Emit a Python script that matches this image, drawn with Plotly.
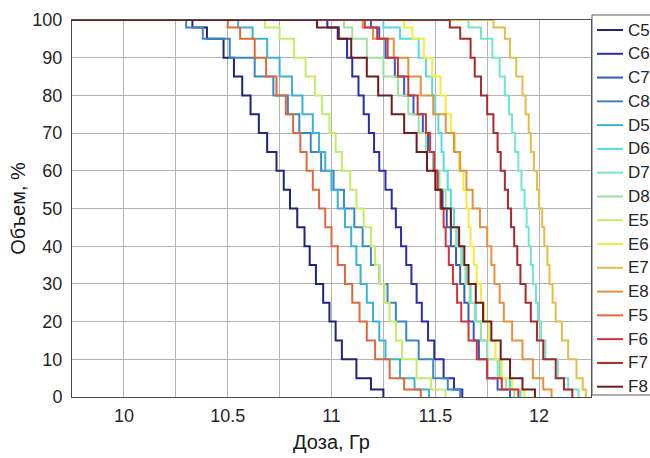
import plotly.graph_objects as go

# ---------------- data ----------------
SERIES = ["C5", "C6", "C7", "C8", "D5", "D6", "D7", "D8",
          "E5", "E6", "E7", "E8", "F5", "F6", "F7", "F8"]

COLORS = ["#23237a", "#2b2bab", "#2f5cc0", "#3b86c8", "#3cb2d8", "#4fdde8",
          "#72e6cc", "#9fe0a0", "#c6ec66", "#f4ec3c", "#e4be48", "#e4923e",
          "#dc6a3c", "#d0343a", "#a82a2c", "#6e1c1c"]

# volume levels (%) at which the dose of each curve was read
VOLUME = [100, 98, 95, 90, 85, 80, 75, 70, 65, 60, 55, 50,
          45, 40, 35, 30, 25, 20, 15, 10, 5, 2, 0]
PLATEAU_DOSE = 9.5   # curves sit at 100 % from the left edge

C5 = [10.25, 10.33, 10.40, 10.48, 10.53, 10.57, 10.61, 10.65, 10.69, 10.735, 10.77, 10.80,
      10.835, 10.87, 10.895, 10.925, 10.96, 10.99, 11.02, 11.05, 11.12, 11.19, 11.25]
C6 = [10.93, 10.98, 11.03, 11.075, 11.10, 11.13, 11.155, 11.18, 11.205, 11.23, 11.26, 11.29,
      11.31, 11.335, 11.36, 11.385, 11.41, 11.435, 11.465, 11.495, 11.54, 11.59, 11.63]
C7 = [11.12, 11.19, 11.23, 11.26, 11.305, 11.35, 11.395, 11.44, 11.465, 11.49, 11.515, 11.535,
      11.555, 11.575, 11.60, 11.62, 11.64, 11.66, 11.685, 11.71, 11.75, 11.80, 11.86]
C8 = [10.24, 10.30, 10.38, 10.51, 10.63, 10.72, 10.79, 10.845, 10.90, 10.95, 11.01, 11.06,
      11.11, 11.15, 11.19, 11.23, 11.27, 11.31, 11.36, 11.42, 11.49, 11.56, 11.62]
D5 = [10.48, 10.55, 10.62, 10.69, 10.75, 10.81, 10.86, 10.91, 10.94, 10.97, 11.00, 11.03,
      11.065, 11.095, 11.12, 11.14, 11.17, 11.20, 11.23, 11.26, 11.33, 11.40, 11.47]
D6 = [11.18, 11.25, 11.33, 11.42, 11.455, 11.485, 11.50, 11.515, 11.53, 11.54, 11.56, 11.575,
      11.59, 11.61, 11.63, 11.65, 11.67, 11.695, 11.72, 11.75, 11.81, 11.86, 11.91]
D7 = [11.60, 11.66, 11.72, 11.775, 11.81, 11.835, 11.855, 11.87, 11.885, 11.90, 11.915, 11.93,
      11.94, 11.95, 11.96, 11.97, 11.985, 11.995, 12.01, 12.03, 12.09, 12.14, 12.19]
D8 = [11.02, 11.06, 11.10, 11.17, 11.25, 11.32, 11.37, 11.42, 11.455, 11.49, 11.52, 11.55,
      11.575, 11.60, 11.625, 11.645, 11.665, 11.69, 11.72, 11.75, 11.80, 11.84, 11.88]
E5 = [10.63, 10.68, 10.75, 10.82, 10.875, 10.92, 10.955, 10.99, 11.02, 11.05, 11.09, 11.12,
      11.155, 11.19, 11.21, 11.23, 11.255, 11.28, 11.31, 11.34, 11.41, 11.48, 11.55]
E6 = [11.30, 11.35, 11.39, 11.445, 11.485, 11.525, 11.55, 11.575, 11.595, 11.615, 11.635, 11.65,
      11.66, 11.67, 11.685, 11.70, 11.72, 11.735, 11.76, 11.79, 11.82, 11.87, 11.93]
E7 = [11.72, 11.78, 11.835, 11.86, 11.89, 11.92, 11.935, 11.95, 11.96, 11.975, 11.99, 12.00,
      12.015, 12.025, 12.04, 12.05, 12.065, 12.08, 12.11, 12.14, 12.18, 12.21, 12.225]
E8 = [11.07, 11.15, 11.20, 11.30, 11.37, 11.43, 11.49, 11.55, 11.59, 11.62, 11.65, 11.68,
      11.715, 11.75, 11.77, 11.785, 11.81, 11.83, 11.87, 11.92, 11.97, 12.02, 12.06]
F5 = [10.44, 10.50, 10.56, 10.63, 10.685, 10.735, 10.78, 10.815, 10.85, 10.88, 10.91, 10.94,
      10.97, 11.00, 11.03, 11.065, 11.10, 11.135, 11.17, 11.21, 11.28, 11.35, 11.43]
F6 = [11.10, 11.16, 11.22, 11.27, 11.32, 11.37, 11.415, 11.455, 11.475, 11.495, 11.51, 11.525,
      11.54, 11.55, 11.565, 11.585, 11.605, 11.625, 11.66, 11.70, 11.75, 11.82, 11.90]
F7 = [11.48, 11.57, 11.62, 11.67, 11.69, 11.72, 11.75, 11.78, 11.80, 11.815, 11.835, 11.85,
      11.865, 11.88, 11.895, 11.91, 11.935, 11.96, 11.99, 12.02, 12.08, 12.12, 12.16]
F8 = [10.55, 10.93, 11.035, 11.095, 11.17, 11.225, 11.29, 11.35, 11.41, 11.46, 11.50, 11.53,
      11.575, 11.615, 11.64, 11.66, 11.695, 11.73, 11.77, 11.815, 11.86, 11.92, 11.98]

DOSES = [C5, C6, C7, C8, D5, D6, D7, D8, E5, E6, E7, E8, F5, F6, F7, F8]

X_TICKS = [9.75, 10, 10.25, 10.5, 10.75, 11, 11.25, 11.5, 11.75, 12, 12.25]
X_TICK_TEXT = ["", "10", "", "10.5", "", "11", "", "11.5", "", "12", ""]
Y_TICKS = [0, 10, 20, 30, 40, 50, 60, 70, 80, 90, 100]

X_TITLE = "Доза, Гр"
Y_TITLE = "Объем, %"

# ---------------- figure ----------------
W, H = 650, 458
ML, MR, MT, MB = 72, 59, 20, 61
PW, PH = W - ML - MR, H - MT - MB

FONT = "Liberation Sans, Arial, Helvetica, sans-serif"
TXT = "#262626"
GRID = "#b4b4b4"


def px_x(px):
    return (px - ML) / PW


def px_y(py):
    return 1 - (py - MT) / PH


fig = go.Figure()
for name, color, dose in zip(SERIES, COLORS, DOSES):
    fig.add_trace(go.Scatter(
        x=[PLATEAU_DOSE] + dose,
        y=[VOLUME[0]] + VOLUME,
        mode="lines",
        name=name,
        line=dict(color=color, width=2, shape="hv"),
        showlegend=False,
    ))

# legend box drawn by hand so it can sit at the clipped right edge, as in the reference
shapes = [dict(type="rect", xref="paper", yref="paper",
               x0=px_x(592), x1=px_x(668), y0=px_y(395), y1=px_y(15),
               line=dict(color="#5e5e5e", width=1), fillcolor="white", layer="above")]
annotations = []
LEG_TOP, LEG_STEP = 30, 23.78
for i, (name, color) in enumerate(zip(SERIES, COLORS)):
    yc = LEG_TOP + i * LEG_STEP
    shapes.append(dict(type="line", xref="paper", yref="paper",
                       x0=px_x(597), x1=px_x(623), y0=px_y(yc), y1=px_y(yc),
                       line=dict(color=color, width=2), layer="above"))
    annotations.append(dict(text=name, xref="paper", yref="paper",
                            x=px_x(626), y=px_y(yc), xanchor="left", yanchor="middle",
                            showarrow=False, font=dict(family=FONT, size=17, color=TXT)))

fig.update_layout(
    width=W, height=H,
    margin=dict(l=ML, r=MR, t=MT, b=MB, autoexpand=False),
    paper_bgcolor="white", plot_bgcolor="white",
    font=dict(family=FONT, color=TXT, size=18),
    showlegend=False,
    shapes=shapes,
    annotations=annotations,
)

fig.update_xaxes(
    range=[9.75, 12.25],
    tickmode="array", tickvals=X_TICKS, ticktext=X_TICK_TEXT,
    showgrid=True, gridcolor=GRID, gridwidth=1,
    showline=True, linecolor="#4a4a4a", linewidth=1, mirror=True,
    ticks="", zeroline=False,
    tickfont=dict(size=18, color=TXT),
    ticklabelstandoff=2,
    title=dict(text=X_TITLE, font=dict(size=20, color="#1a1a1a"), standoff=10),
)
fig.update_yaxes(
    range=[0, 100],
    tickmode="array", tickvals=Y_TICKS,
    showgrid=True, gridcolor=GRID, gridwidth=1,
    showline=True, linecolor="#4a4a4a", linewidth=1, mirror=True,
    ticks="", zeroline=False,
    tickfont=dict(size=18, color=TXT),
    ticklabelstandoff=5,
    title=dict(text=Y_TITLE, font=dict(size=20, color="#1a1a1a"), standoff=1),
)

fig.write_html("out.html",
               config={"displayModeBar": False},
               post_script="document.body.style.margin='0';")
